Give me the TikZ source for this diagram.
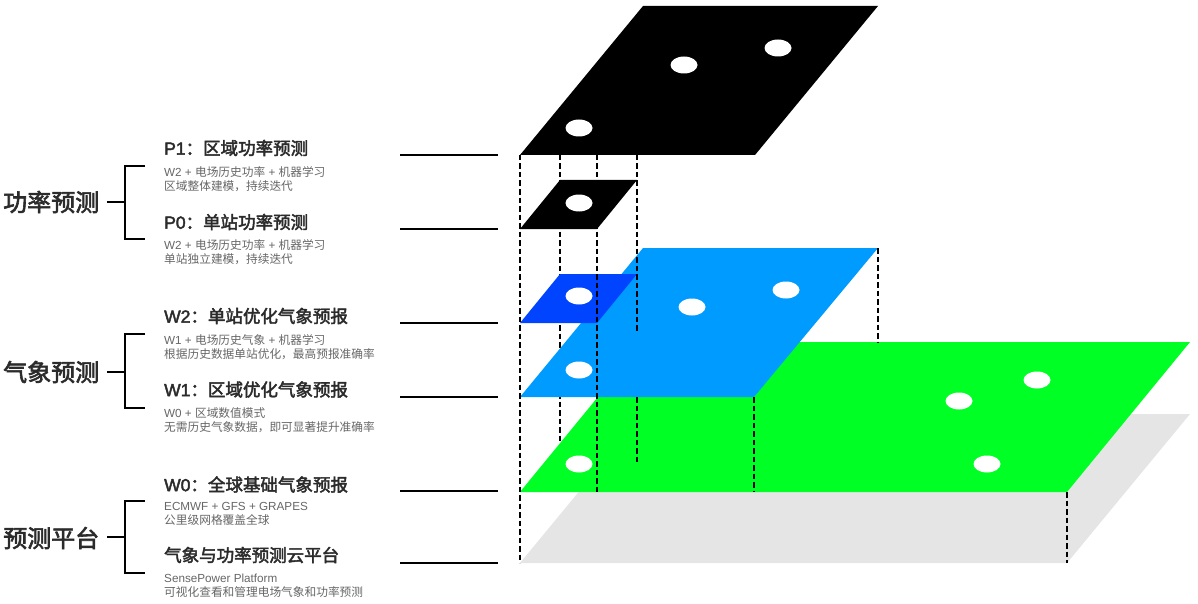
\documentclass[tikz,border=0pt]{standalone}
\usepackage{fontspec}
\setmainfont{Noto Sans CJK SC}
\newfontfamily\medcjk{Noto Sans CJK SC}[FakeBold=2.5]
\newfontfamily\medlat{Liberation Sans}[FakeBold=2.5]
\newfontfamily\lat{Liberation Sans}
\definecolor{pblack}{HTML}{000000}
\definecolor{dblue}{HTML}{0044FF}
\definecolor{lblue}{HTML}{009BFF}
\definecolor{lgreen}{HTML}{00FF24}
\definecolor{pgray}{HTML}{E5E5E5}
\definecolor{txtdark}{HTML}{2B2B2B}
\definecolor{txtsub}{HTML}{666666}
\newcommand{\ml}[1]{{\medlat #1}}
\newcommand{\lt}[1]{{\lat #1}}
\tikzset{
  catlabel/.style={anchor=west, inner sep=0pt, font=\fontsize{24}{26}\selectfont\medcjk, text=txtdark},
  titlelabel/.style={anchor=west, inner sep=0pt, font=\fontsize{17.5}{20}\selectfont\medcjk, text=txtdark},
  sublabel/.style={anchor=west, inner sep=0pt, align=left, font=\fontsize{11.7}{14}\selectfont, text=txtsub},
  bracketline/.style={draw=black, line width=2pt},
  leaderline/.style={draw=black, line width=1.8pt},
  projline/.style={draw=black, line width=2.6pt, dash pattern=on 5.5pt off 3pt},
  dot/.style={fill=white},
}
\begin{document}
\begin{tikzpicture}[x=1pt,y=-1pt]
\useasboundingbox (0,0) rectangle (1198,604);

% ---- corner coordinates ----
% P1
\coordinate (p1a) at (520,155); \coordinate (p1b) at (755,155);
\coordinate (p1c) at (878,6);   \coordinate (p1d) at (643,6);
% P0
\coordinate (p0a) at (520,229); \coordinate (p0b) at (597,229);
\coordinate (p0c) at (637,180); \coordinate (p0d) at (560,180);
% W2
\coordinate (w2a) at (520,323); \coordinate (w2b) at (597,323);
\coordinate (w2c) at (637,274); \coordinate (w2d) at (560,274);
% W1
\coordinate (w1a) at (520,397); \coordinate (w1b) at (754,397);
\coordinate (w1c) at (878,248); \coordinate (w1d) at (643,248);
% W0
\coordinate (w0a) at (520,492); \coordinate (w0b) at (1067,492);
\coordinate (w0c) at (1190,342); \coordinate (w0d) at (643,342);
% platform
\coordinate (pfa) at (520,563); \coordinate (pfb) at (1067,563);
\coordinate (pfc) at (1190,414); \coordinate (pfd) at (643,414);

% hidden projection line (behind layers)
\coordinate (h1) at (560,155); \coordinate (h2) at (560,492);
\draw[projline] (h1) -- (h2);

% ---- layers ----
\fill[pgray] (pfa) -- (pfb) -- (pfc) -- (pfd) -- cycle;
\fill[lgreen] (w0a) -- (w0b) -- (w0c) -- (w0d) -- cycle;
\fill[lblue] (w1a) -- (w1b) -- (w1c) -- (w1d) -- cycle;
\fill[dblue] (w2a) -- (w2b) -- (w2c) -- (w2d) -- cycle;

% ---- visible projection lines ----
\draw[projline] (p1a) -- (pfa);
\coordinate (v1) at (597,155); \coordinate (v2) at (597,492);
\draw[projline] (v1) -- (v2);
\coordinate (u1) at (637,155); \coordinate (u2) at (637,333);
\coordinate (u3) at (637,397); \coordinate (u4) at (637,463);
\draw[projline] (u1) -- (u2);
\draw[projline] (u3) -- (u4);
\coordinate (t1) at (754,492);
\draw[projline] (w1b) -- (t1);
\coordinate (s1) at (878,342);
\draw[projline] (w1c) -- (s1);
\draw[projline] (w0b) -- (pfb);

\fill[pblack] (p0a) -- (p0b) -- (p0c) -- (p0d) -- cycle;
\fill[pblack] (p1a) -- (p1b) -- (p1c) -- (p1d) -- cycle;

% ---- dots ----
\foreach \px/\py in {684/65, 778/48, 579/128, 579/203, 579/296, 692/307, 786/290, 579/370, 579/464, 959/401, 1037/380, 987/464}
  \fill[dot] (\px,\py) ellipse [x radius=13.5pt, y radius=8.5pt];

% ---- leader lines ----
\foreach \ly/\nm in {155/la, 229/lb, 323/lc, 397/ld, 491/le, 563/lf}{
  \coordinate (\nm s) at (400,\ly); \coordinate (\nm e) at (498,\ly);
  \draw[leaderline] (\nm s) -- (\nm e);
}

% ---- group 1 ----
\node[catlabel] (cat1) at (3,202) {功率预测};
\coordinate (b1t) at (145,166); \coordinate (b1b) at (145,239);
\coordinate (b1m) at (125,202); \coordinate (b1k) at (107,202);
\draw[bracketline] (b1t) -- (125,166) -- (125,239) -- (b1b);
\draw[bracketline] (b1k) -- (b1m);
\node[titlelabel] (p1t) at (164,148) {\ml{P1}：区域功率预测};
\node[sublabel] (p1s) at (164,179.5) {\lt{W2 + }电场历史功率\lt{ + }机器学习\\区域整体建模，持续迭代};
\node[titlelabel] (p0t) at (164,222) {\ml{P0}：单站功率预测};
\node[sublabel] (p0s) at (164,252.5) {\lt{W2 + }电场历史功率\lt{ + }机器学习\\单站独立建模，持续迭代};

% ---- group 2 ----
\node[catlabel] (cat2) at (3,372) {气象预测};
\coordinate (b2t) at (145,334); \coordinate (b2b) at (145,408);
\coordinate (b2m) at (125,372); \coordinate (b2k) at (107,372);
\draw[bracketline] (b2t) -- (125,334) -- (125,408) -- (b2b);
\draw[bracketline] (b2k) -- (b2m);
\node[titlelabel] (w2t) at (164,316) {\ml{W2}：单站优化气象预报};
\node[sublabel] (w2s) at (164,347.5) {\lt{W1 + }电场历史气象\lt{ + }机器学习\\根据历史数据单站优化，最高预报准确率};
\node[titlelabel] (w1t) at (164,389.5) {\ml{W1}：区域优化气象预报};
\node[sublabel] (w1s) at (164,420.5) {\lt{W0 + }区域数值模式\\无需历史气象数据，即可显著提升准确率};

% ---- group 3 ----
\node[catlabel] (cat3) at (3,538) {预测平台};
\coordinate (b3t) at (145,501); \coordinate (b3b) at (145,573);
\coordinate (b3m) at (125,537); \coordinate (b3k) at (107,537);
\draw[bracketline] (b3t) -- (125,501) -- (125,573) -- (b3b);
\draw[bracketline] (b3k) -- (b3m);
\node[titlelabel] (w0t) at (164,484.5) {\ml{W0}：全球基础气象预报};
\node[sublabel] (w0s) at (164,514) {\lt{ECMWF + GFS + GRAPES}\\公里级网格覆盖全球};
\node[titlelabel] (cpt) at (164,555) {气象与功率预测云平台};
\node[sublabel] (cps) at (164,585.5) {\lt{SensePower Platform}\\可视化查看和管理电场气象和功率预测};
\end{tikzpicture}
\end{document}
